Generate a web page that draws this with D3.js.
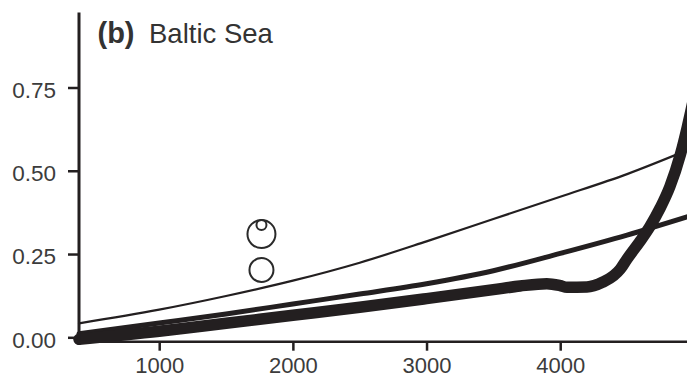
<!DOCTYPE html>
<html>
<head>
<meta charset="utf-8">
<script src="https://cdn.jsdelivr.net/npm/d3@7/dist/d3.min.js"></script>
<style>
  html, body { margin: 0; padding: 0; background: #fff; }
  svg { display: block; }
</style>
</head>
<body>
<svg id="chart" width="687" height="378"></svg>
<script>
// ---- data ----
const xTicks = [1000, 2000, 3000, 4000];
const yTicks = [0.00, 0.25, 0.50, 0.75];
const yTickLabels = ["0.00", "0.25", "0.50", "0.75"];

// thin curve
const thinX = [400, 1000, 1500, 2000, 2500, 3000, 3500, 4000, 4500, 5000];
const thinY = [0.042, 0.083, 0.124, 0.170, 0.224, 0.288, 0.355, 0.422, 0.490, 0.570];

// medium curve
const medX = [400, 1000, 1500, 2000, 2500, 3000, 3500, 4000, 4500, 5000];
const medY = [0.011, 0.043, 0.070, 0.100, 0.130, 0.161, 0.200, 0.252, 0.307, 0.368];

// thick curve
const thickX = [400, 1000, 1500, 2000, 2500, 3000, 3500, 3700, 3900, 4000, 4050, 4200, 4320, 4400, 4450, 4500, 4600, 4670, 4750, 4820, 4900, 4950, 5000];
const thickY = [-0.006, 0.018, 0.042, 0.066, 0.090, 0.116, 0.143, 0.154, 0.161, 0.155, 0.150, 0.151, 0.166, 0.185, 0.205, 0.235, 0.290, 0.332, 0.390, 0.452, 0.550, 0.630, 0.720];

// observation circles
const ptX = [1765, 1765, 1765];
const ptY = [0.310, 0.202, 0.337];
const ptSize = [14, 12, 5];

// ---- drawing ----
const svg = d3.select("#chart");
const ink = "#231f20";
const textCol = "#3c3c3c";
const font = "'Liberation Sans', Arial, Helvetica, sans-serif";

const x = d3.scaleLinear().domain([400, 5000]).range([79, 79 + 4600 * 0.13367]);
const y = d3.scaleLinear().domain([0, 0.75]).range([337.3, 87.5]);

const line = d3.line().x(d => x(d[0])).y(d => y(d[1])).curve(d3.curveMonotoneX);

function drawSeries(xs, ys, w) {
  svg.append("path")
    .datum(xs.map((v, i) => [v, ys[i]]))
    .attr("d", line)
    .attr("fill", "none")
    .attr("stroke", ink)
    .attr("stroke-width", w)
    .attr("stroke-linecap", "round")
    .attr("stroke-linejoin", "round");
}

drawSeries(thinX, thinY, 2.2);
drawSeries(medX, medY, 5);
drawSeries(thickX, thickY, 11.5);

// circles
svg.selectAll("circle.obs")
  .data(ptX.map((v, i) => ({x: v, y: ptY[i], r: ptSize[i]})))
  .join("circle")
  .attr("class", "obs")
  .attr("cx", d => x(d.x))
  .attr("cy", d => y(d.y))
  .attr("r", d => d.r)
  .attr("fill", "none")
  .attr("stroke", "#2a2a2a")
  .attr("stroke-width", 2);

// axes
const yAxis = d3.axisLeft(y).tickValues(yTicks).tickFormat((d, i) => yTickLabels[i]).tickSize(11).tickPadding(12);
const gy = svg.append("g").attr("transform", "translate(79,0)").call(yAxis);
gy.select(".domain").remove();
gy.selectAll(".tick line").attr("stroke", ink).attr("stroke-width", 2.5);
gy.selectAll(".tick text")
  .attr("fill", textCol)
  .attr("font-family", font)
  .attr("font-size", 22.5)
  .attr("dy", "0.44em");

const xAxis = d3.axisBottom(x).tickValues(xTicks).tickFormat(d3.format("d")).tickSize(9).tickPadding(6.5);
const gx = svg.append("g").attr("transform", "translate(0,341.7)").call(xAxis);
gx.select(".domain").remove();
gx.selectAll(".tick line").attr("stroke", ink).attr("stroke-width", 2.5);
gx.selectAll(".tick text")
  .attr("fill", textCol)
  .attr("font-family", font)
  .attr("font-size", 22);

// axis lines
svg.append("line")
  .attr("x1", 79).attr("x2", 79).attr("y1", 12.5).attr("y2", 345)
  .attr("stroke", ink).attr("stroke-width", 3);
svg.append("line")
  .attr("x1", 78).attr("x2", 700).attr("y1", 341.7).attr("y2", 341.7)
  .attr("stroke", ink).attr("stroke-width", 2.5);

// title
const title = svg.append("text")
  .attr("y", 43.3)
  .attr("fill", "#333")
  .attr("font-family", font)
  .attr("font-size", 27.5);
title.append("tspan").attr("x", 97.5).attr("font-weight", "bold").attr("font-size", 29).text("(b)");
title.append("tspan").attr("x", 149).text("Baltic Sea");
</script>
</body>
</html>
